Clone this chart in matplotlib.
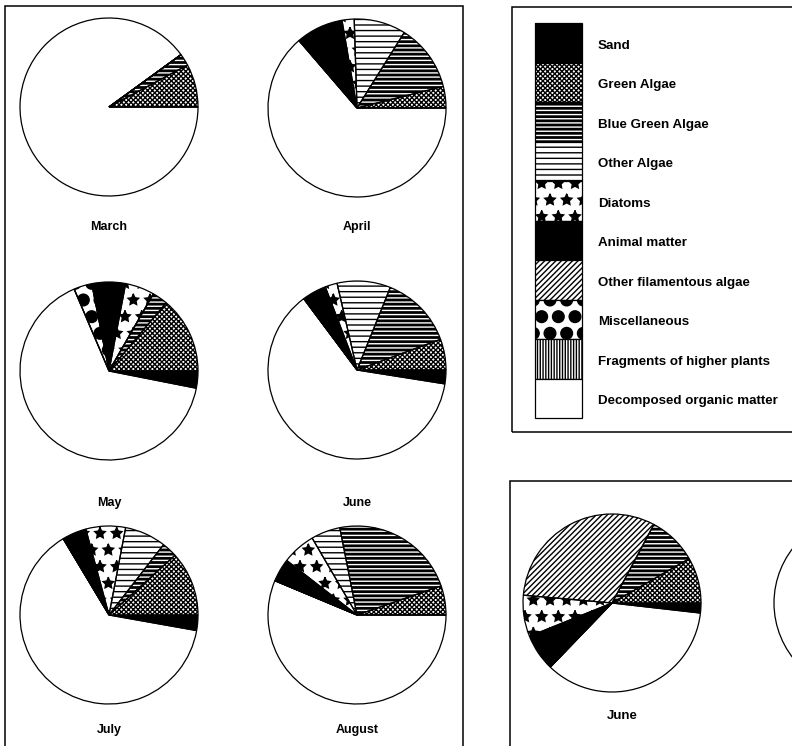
import matplotlib
matplotlib.use("Agg")
import matplotlib.pyplot as plt
import matplotlib.hatch as mhatch
from matplotlib.patches import Rectangle, Circle

# solid round dots for the "Miscellaneous" fill
mhatch.LargeCircles.filled = True

categories = ["Sand", "Green Algae", "Blue Green Algae", "Other Algae", "Diatoms",
              "Animal matter", "Other filamentous algae", "Miscellaneous",
              "Fragments of higher plants", "Decomposed organic matter"]

# percent of stomach contents, in the order of `categories`
march = [0, 7.8, 2.2, 0, 0, 0, 0, 0, 0, 90.0]
april = [0, 3.9, 12.2, 9.4, 2.2, 8.6, 0, 0, 0, 63.7]
may = [3.1, 13.9, 2.8, 0, 5.3, 6.1, 0, 3.3, 0, 65.5]
june = [2.5, 5.6, 13.3, 9.7, 2.2, 4.4, 0, 0, 0, 62.3]
july = [2.8, 11.7, 2.8, 7.5, 7.2, 4.4, 0, 0, 0, 63.6]
august = [0, 5.3, 22.8, 5.3, 6.1, 4.2, 0, 0, 0, 56.3]
june_site2 = [1.8, 8.3, 8.9, 0, 7.5, 6.7, 31.4, 0, 0, 35.4]

months = ["March", "April", "May", "June", "July", "August"]
month_data = [march, april, may, june, july, august]

# fill style per category: face colour, hatch, hatch colour
FACE = ["black", "white", "black", "white", "white", "black", "white", "white", "white", "white"]
HATCH = [None, "xxxxxxx", "----", "---", "*", None, "//////", "O", "||||||", None]
HCOL = ["black", "black", "white", "black", "black", "black", "black", "black", "black", "black"]

ORDER = list(range(10))
ORDER_SITE2 = [0, 1, 2, 6, 4, 5, 3, 7, 8, 9]

W, H = 792, 746
fig = plt.figure(figsize=(W / 100, H / 100), dpi=100)
ax = fig.add_axes([0, 0, 1, 1])

LBL = dict(family="Liberation Sans", fontweight="bold", fontsize=9,
           ha="center", va="center")


def draw_pie(values, center, r, order=ORDER):
    vals = [values[i] for i in order]
    start = -360.0 * vals[0] / sum(vals)
    wedges, _ = ax.pie(vals, startangle=start, center=center, radius=r, frame=True,
                       wedgeprops=dict(linewidth=0))
    for w, i in zip(wedges, order):
        w.set_facecolor(FACE[i])
        w.set_edgecolor(HCOL[i])
        w.set_hatch(HATCH[i])
    ax.pie(vals, startangle=start, center=center, radius=r, frame=True,
           wedgeprops=dict(facecolor="none", edgecolor="black", linewidth=0.9))


# left panel: monthly pies
ax.add_patch(Rectangle((5, -10), 458, 750, fill=False, edgecolor="black", lw=1.1))
centers = [(109, 639), (357, 638), (109, 375), (357, 376), (109, 131), (357, 131)]
label_y = [519, 519, 243, 243, 16, 16]
for name, vals, c, ly in zip(months, month_data, centers, label_y):
    draw_pie(vals, c, 89)
    ax.text(c[0], ly, name, **LBL)

# legend panel
ax.add_patch(Rectangle((512, 314), 300, 425, fill=False, edgecolor="black", lw=1.1))
cell = 39.5
top = 723
for i, cat in enumerate(categories):
    y0 = top - (i + 1) * cell
    ax.add_patch(Rectangle((535, y0), 47, cell, facecolor=FACE[i], edgecolor=HCOL[i],
                           hatch=HATCH[i], lw=0))
    ax.add_patch(Rectangle((535, y0), 47, cell, fill=False, edgecolor="black", lw=0.9))
    ax.text(598, y0 + cell / 2 - 3, cat, family="Liberation Sans", fontweight="bold",
            fontsize=9.6, ha="left", va="center")

# lower right panel: second site
ax.add_patch(Rectangle((510, -10), 300, 275, fill=False, edgecolor="black", lw=1.1))
draw_pie(june_site2, (612, 143), 89, ORDER_SITE2)
ax.text(622, 30, "June", **{**LBL, "fontsize": 9.5})
ax.add_patch(Circle((863, 143), 89, fill=False, edgecolor="black", lw=0.9))

ax.set_xlim(0, W)
ax.set_ylim(0, H)
ax.set_aspect("equal")
ax.axis("off")

fig.savefig("out.png", dpi=100)
